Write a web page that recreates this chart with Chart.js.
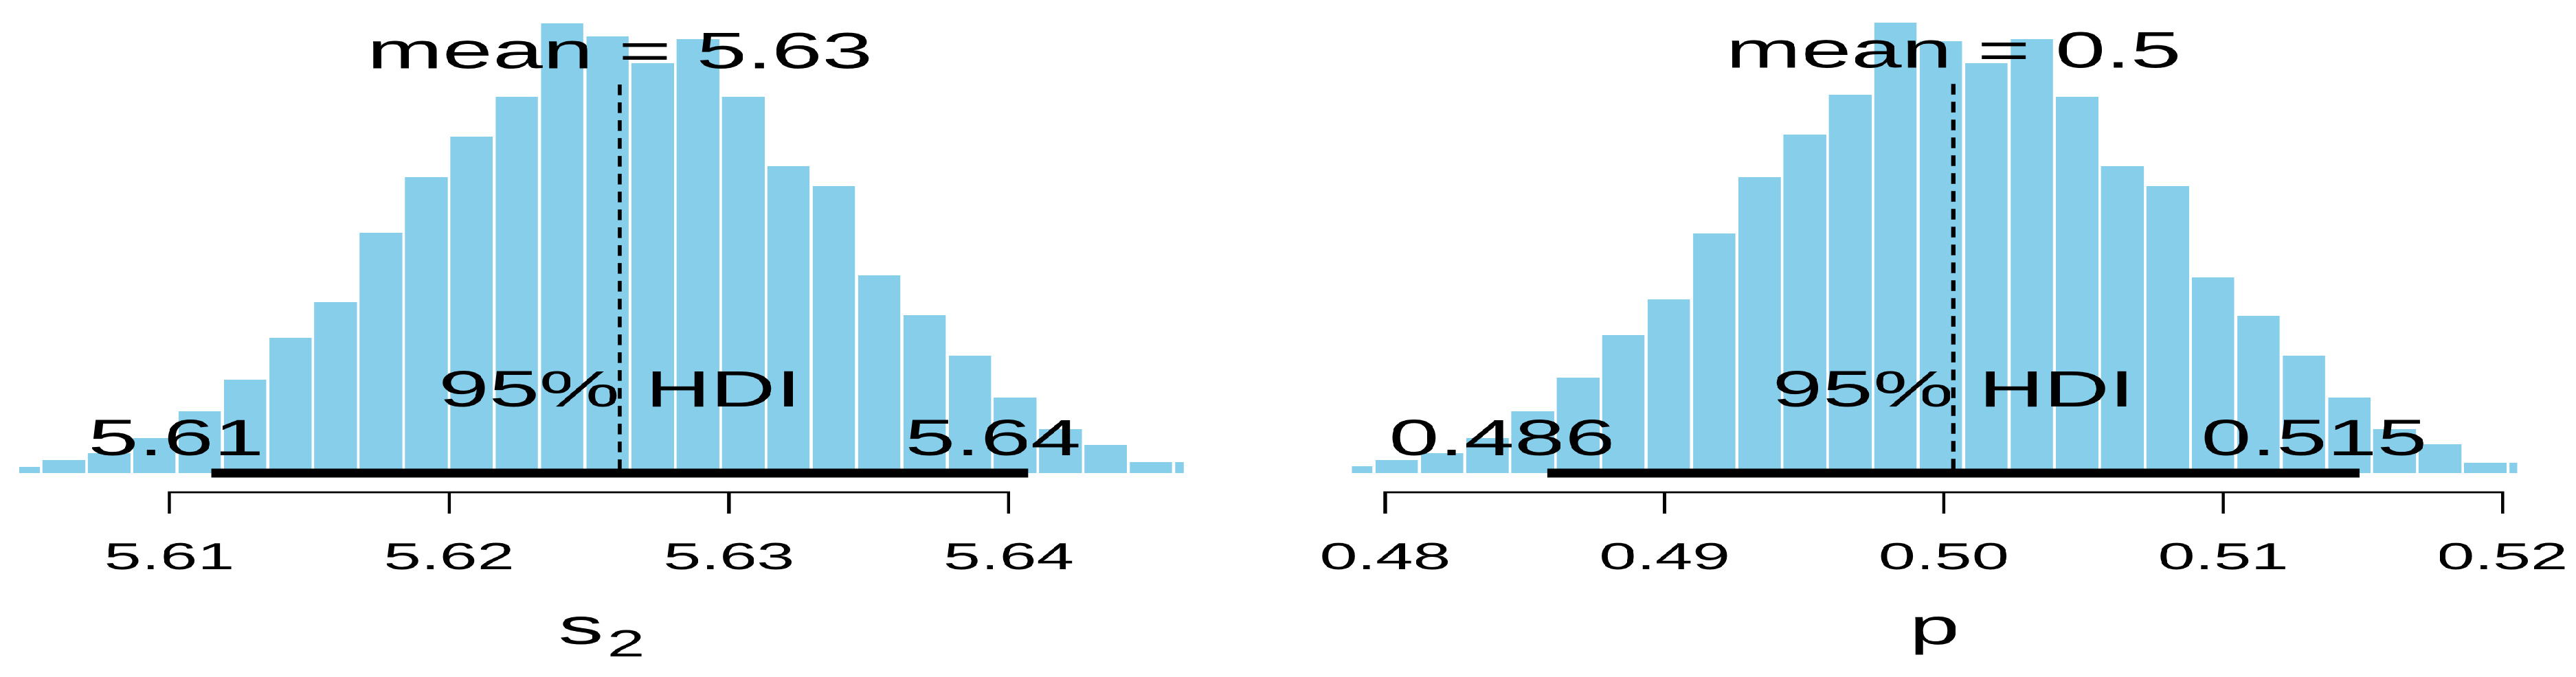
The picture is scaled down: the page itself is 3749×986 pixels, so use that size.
<!DOCTYPE html>
<html>
<head>
<meta charset="utf-8">
<script src="https://cdn.jsdelivr.net/npm/chart.js@4.4.1/dist/chart.umd.min.js"></script>
<style>
  html, body { margin: 0; padding: 0; background: #fff; overflow: hidden; }
  /* the R device was drawn narrower and stretched sideways, so do the same */
  #stretch { width: 2106px; height: 986px; display: flex; transform: scaleX(1.78015); transform-origin: 0 0; }
  .panel { position: relative; width: 1053px; height: 986px; }
</style>
</head>
<body>
<div id="stretch">
  <div class="panel"><canvas id="postS2"></canvas></div>
  <div class="panel"><canvas id="postP"></canvas></div>
</div>
<script>
// left panel: posterior of s2
const s2Bins = [5.604611, 5.606230, 5.607849, 5.609468, 5.611087, 5.612706, 5.614325, 5.615944, 5.617563,
  5.619182, 5.620801, 5.622420, 5.624039, 5.625658, 5.627277, 5.628896, 5.630515, 5.632134,
  5.633753, 5.635372, 5.636991, 5.638610, 5.640229, 5.641848, 5.643467, 5.645086, 5.646705];
const s2Freq = [9, 19, 29, 51, 90, 136, 197, 249, 350, 431, 490, 548, 655, 636, 597, 632, 548, 447,
  418, 288, 230, 171, 110, 64, 41, 16, 16];
const s2Mean = 5.6261;
const s2Hdi = [5.6115, 5.6407];
const s2Ticks = [5.61, 5.62, 5.63, 5.64];
const s2TickLabels = ['5.61', '5.62', '5.63', '5.64'];

// right panel: posterior of p
const pBins = [0.478785, 0.480409, 0.482033, 0.483657, 0.485281, 0.486905, 0.488529, 0.490153, 0.491777,
  0.493401, 0.495025, 0.496649, 0.498273, 0.499897, 0.501521, 0.503145, 0.504769, 0.506393,
  0.508017, 0.509641, 0.511265, 0.512889, 0.514513, 0.516137, 0.517761, 0.519385, 0.521009];
const pFreq = [10, 19, 29, 51, 90, 139, 201, 253, 349, 431, 493, 551, 656, 629, 597, 632, 548, 447,
  418, 285, 229, 171, 110, 64, 42, 15, 15];
const pMean = 0.50034;
const pHdi = [0.4858, 0.51488];
const pTicks = [0.48, 0.49, 0.50, 0.51, 0.52];
const pTickLabels = ['0.48', '0.49', '0.50', '0.51', '0.52'];

const FONT = '"Liberation Sans", Arial, Helvetica, sans-serif';

// like R's signif(x, 3)
function fmt(v) {
    return String(Number(v.toPrecision(3)));
}

const rAnnot = {
    id: 'rAnnot',
    afterDatasetsDraw(chart, args, o) {
        const ctx = chart.ctx;
        const xs = chart.scales.x, ys = chart.scales.y;
        const area = chart.chartArea;
        const base = ys.getPixelForValue(0);
        const axisY = area.bottom;

        ctx.save();
        ctx.fillStyle = '#000';
        ctx.strokeStyle = '#000';

        // axis line from first to last tick, ticks hanging down
        const tx = o.ticks.map(v => xs.getPixelForValue(v));
        const last = tx.length - 1;
        ctx.lineWidth = 2.7;
        ctx.lineJoin = 'miter';
        ctx.beginPath();
        ctx.moveTo(tx[0], axisY + 31);
        ctx.lineTo(tx[0], axisY);
        ctx.lineTo(tx[last], axisY);
        ctx.lineTo(tx[last], axisY + 31);
        for (let i = 1; i < last; i++) {
            ctx.moveTo(tx[i], axisY);
            ctx.lineTo(tx[i], axisY + 31);
        }
        ctx.stroke();

        ctx.textBaseline = 'alphabetic';
        ctx.textAlign = 'center';
        ctx.font = '55px ' + FONT;
        o.tickLabels.forEach((t, i) => ctx.fillText(t, tx[i], axisY + 112));

        // axis title, with subscript when there is one
        ctx.textAlign = 'left';
        ctx.font = '74px ' + FONT;
        const mainW = ctx.measureText(o.xlab[0]).width;
        ctx.font = '55px ' + FONT;
        const subW = o.xlab[1] ? ctx.measureText(o.xlab[1]).width + 3 : 0;
        const lx = (area.left + area.right) / 2 - (mainW + subW) / 2;
        ctx.font = '74px ' + FONT;
        ctx.fillText(o.xlab[0], lx, axisY + 221);
        if (o.xlab[1]) {
            ctx.font = '55px ' + FONT;
            ctx.fillText(o.xlab[1], lx + mainW + 3, axisY + 239);
        }

        // mean, HDI texts
        ctx.font = '74px ' + FONT;
        ctx.textAlign = 'center';
        ctx.fillText('mean = ' + fmt(o.mean), xs.getPixelForValue(o.mean), ys.getPixelForValue(o.cenTendHt));
        ctx.fillText('95% HDI', xs.getPixelForValue((o.hdi[0] + o.hdi[1]) / 2), base - 97);
        ctx.textAlign = 'left';
        o.hdi.forEach(h => {
            const s = fmt(h);
            const w = ctx.measureText(s).width;
            ctx.fillText(s, xs.getPixelForValue(h) - 0.7 * w, base - 26);
        });
        ctx.restore();
    }
};

function plotPost(id, bins, freq, mean, hdi, ticks, tickLabels, xlab, xmin, xmax, padL, padR) {
    const cenTendHt = 0.9 * Math.max(...freq);
    return new Chart(document.getElementById(id), {
        type: 'bar',
        data: {
            datasets: [
                {
                    type: 'bar',
                    data: bins.map((b, i) => ({ x: b, y: freq[i] })),
                    backgroundColor: '#87CEEB',
                    borderColor: '#ffffff',
                    borderWidth: { left: 1.5, right: 1.5, top: 0, bottom: 0 },
                    borderSkipped: false,
                    barThickness: 'flex',
                    barPercentage: 1,
                    categoryPercentage: 1,
                    clip: 0,
                    order: 3
                },
                {
                    type: 'line',
                    data: [{ x: mean, y: 0.96 * cenTendHt }, { x: mean, y: 0 }],
                    borderColor: '#000',
                    borderWidth: 3.3,
                    borderDash: [15.5, 10.5],
                    pointRadius: 0,
                    order: 2
                },
                {
                    type: 'line',
                    data: [{ x: hdi[0], y: 0 }, { x: hdi[1], y: 0 }],
                    borderColor: '#000',
                    borderWidth: 13,
                    borderCapStyle: 'butt',
                    pointRadius: 0,
                    order: 1
                }
            ]
        },
        options: {
            responsive: true,
            maintainAspectRatio: false,
            animation: false,
            devicePixelRatio: 2,
            events: [],
            layout: { padding: { left: padL, right: padR, top: 20, bottom: 269 } },
            scales: {
                x: { type: 'linear', min: xmin, max: xmax, offset: false, display: false },
                y: { type: 'linear', min: -28, max: 669, display: false }
            },
            plugins: {
                legend: { display: false },
                tooltip: { enabled: false },
                rAnnot: { mean, hdi, ticks, tickLabels, xlab, cenTendHt }
            }
        },
        plugins: [rAnnot]
    });
}

plotPost('postS2', s2Bins, s2Freq, s2Mean, s2Hdi, s2Ticks, s2TickLabels, ['s', '2'],
    5.6046337, 5.6462625, 15.73, 85.1);
plotPost('postP', pBins, pFreq, pMean, pHdi, pTicks, pTickLabels, ['p', ''],
    0.478807, 0.520517, 52.25, 48.27);
</script>
</body>
</html>
